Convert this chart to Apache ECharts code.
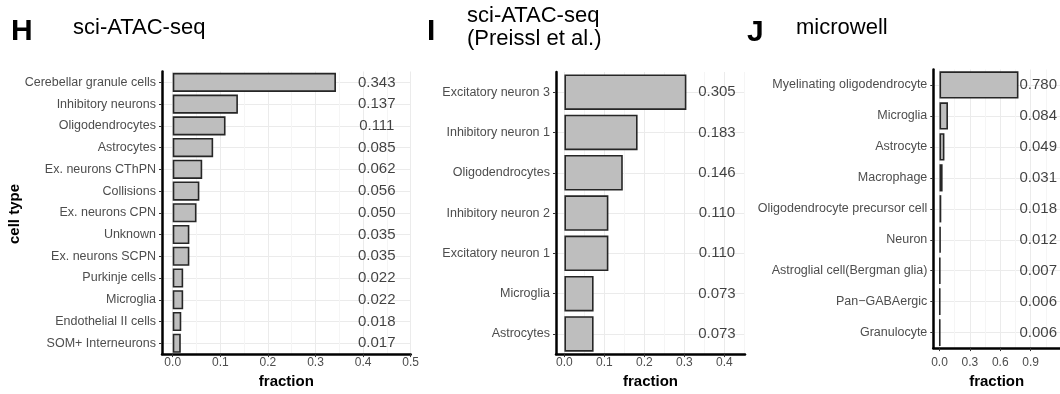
<!DOCTYPE html>
<html>
<head>
<meta charset="utf-8">
<script src="https://cdn.jsdelivr.net/npm/echarts@6/dist/echarts.min.js"></script>
<style>
html,body{margin:0;padding:0;background:#fff;}
#chart{width:1060px;height:394px;}
</style>
</head>
<body>
<div id="chart"></div>
<script>
// ---- Data ----
const hCats = ['Cerebellar granule cells','Inhibitory neurons','Oligodendrocytes','Astrocytes','Ex. neurons CThPN','Collisions','Ex. neurons CPN','Unknown','Ex. neurons SCPN','Purkinje cells','Microglia','Endothelial II cells','SOM+ Interneurons'];
const hVals = [0.343,0.137,0.111,0.085,0.062,0.056,0.050,0.035,0.035,0.022,0.022,0.018,0.017];
const hTicks = [0,0.1,0.2,0.3,0.4,0.5];
const hMinor = [0.05,0.15,0.25,0.35,0.45];

const iCats = ['Excitatory neuron 3','Inhibitory neuron 1','Oligodendrocytes','Inhibitory neuron 2','Excitatory neuron 1','Microglia','Astrocytes'];
const iVals = [0.305,0.183,0.146,0.110,0.110,0.073,0.073];
const iTicks = [0,0.1,0.2,0.3,0.4];
const iMinor = [0.05,0.15,0.25,0.35,0.45];

const jCats = ['Myelinating oligodendrocyte','Microglia','Astrocyte','Macrophage','Oligodendrocyte precursor cell','Neuron','Astroglial cell(Bergman glia)','Pan\u2212GABAergic','Granulocyte'];
const jVals = [0.780,0.084,0.049,0.031,0.018,0.012,0.007,0.006,0.006];
const jTicks = [0,0.3,0.6,0.9];
const jMinor = [0.15,0.45,0.75,1.05];

// ---- Build ----
const FONT = '"Liberation Sans", Arial, Helvetica, sans-serif';
const grids = [], xAxes = [], yAxes = [], series = [];

function panel(cats, vals, ticks, minor, box, xr, labMargin, nameGap) {
  const g = grids.length;
  grids.push({left: box.left, top: box.top, width: box.width, height: box.height, containLabel: false});
  const xMain = xAxes.length;
  xAxes.push({
    type: 'value', gridIndex: g, min: xr[0], max: xr[1],
    axisLine: {show: true, onZero: false, lineStyle: {color: '#000', width: 2.5}},
    axisTick: {show: true, length: 3, lineStyle: {color: '#333', width: 1}, customValues: ticks},
    axisLabel: {customValues: ticks, formatter: v => v.toFixed(1), color: '#4d4d4d', fontSize: 12, fontFamily: FONT, margin: labMargin},
    splitLine: {show: true, lineStyle: {color: '#ebebeb', width: 1}},
    name: 'fraction', nameLocation: 'middle', nameGap: nameGap,
    nameTextStyle: {fontWeight: 'bold', fontSize: 15, color: '#000', fontFamily: FONT}
  });
  xAxes.push({
    type: 'value', gridIndex: g, min: xr[0], max: xr[1],
    axisLine: {show: false}, axisLabel: {show: false},
    axisTick: {show: false, customValues: minor},
    splitLine: {show: true, lineStyle: {color: '#f5f5f5', width: 1}}
  });
  const yCat = yAxes.length;
  yAxes.push({
    type: 'category', gridIndex: g, data: cats, inverse: true,
    axisLine: {show: true, onZero: false, lineStyle: {color: '#000', width: 2.5}},
    axisTick: {show: true, alignWithLabel: true, length: 3, lineStyle: {color: '#333', width: 1}},
    axisLabel: {color: '#4d4d4d', fontSize: 12.5, fontFamily: FONT, margin: 6},
    splitLine: {show: false}, z: 3
  });
  const idx = cats.map((c, i) => i);
  yAxes.push({
    type: 'value', gridIndex: g, min: -0.5, max: cats.length - 0.5, inverse: true, position: 'left',
    axisLine: {show: false}, axisLabel: {show: false},
    axisTick: {show: false, customValues: idx},
    splitLine: {show: true, lineStyle: {color: '#ebebeb', width: 1}}
  });
  series.push({
    type: 'bar', xAxisIndex: xMain, yAxisIndex: yCat, data: vals, barWidth: '88%',
    itemStyle: {color: '#bebebe', borderColor: '#262626', borderWidth: 1.6},
    silent: true, animation: false
  });
  const labelX = Math.max(...vals) * 1.25;
  series.push({
    type: 'scatter', xAxisIndex: xMain, yAxisIndex: yCat,
    data: vals.map((v, i) => ({value: [labelX, i], txt: v.toFixed(3)})),
    symbolSize: 1, itemStyle: {color: 'rgba(0,0,0,0)'},
    label: {show: true, position: 'inside', formatter: p => p.data.txt, color: '#111', fontSize: 15, fontFamily: FONT},
    silent: true, animation: false
  });
}

panel(hCats, hVals, hTicks, hMinor, {left: 162, top: 71.5, width: 248.7, height: 285}, [-0.0225, 0.5], 3, 16);
panel(iCats, iVals, iTicks, iMinor, {left: 556, top: 72, width: 189, height: 283.5}, [-0.021, 0.4515], 3, 16);
panel(jCats, jVals, jTicks, jMinor, {left: 933.3, top: 69.5, width: 126.7, height: 283}, [-0.061, 1.19], 9, 21);

function txt(s, x, y, size, weight, extra) {
  return Object.assign({type: 'text', x: x, y: y, style: {text: s, font: weight + ' ' + size + 'px ' + FONT, fill: '#000', textVerticalAlign: 'middle', verticalAlign: 'middle'}}, extra || {});
}

const graphics = [
  txt('H', 11, 31.5, 30, 'bold'),
  txt('sci-ATAC-seq', 73, 27.8, 22, 'normal'),
  txt('I', 427, 32.2, 30, 'bold'),
  txt('sci-ATAC-seq', 467, 15.5, 22, 'normal'),
  txt('(Preissl et al.)', 467, 38.5, 22, 'normal'),
  txt('J', 747, 32.5, 30, 'bold'),
  txt('microwell', 796, 27.8, 22, 'normal'),
  {type: 'text', x: 15, y: 214, rotation: Math.PI / 2,
   style: {text: 'cell type', font: 'bold 15px ' + FONT, fill: '#000', align: 'center', verticalAlign: 'middle', textAlign: 'center', textVerticalAlign: 'middle'}}
];

const chart = echarts.init(document.getElementById('chart'), null, {renderer: 'canvas'});
chart.setOption({
  animation: false,
  backgroundColor: '#fff',
  grid: grids, xAxis: xAxes, yAxis: yAxes, series: series,
  graphic: graphics
});
</script>
</body>
</html>
